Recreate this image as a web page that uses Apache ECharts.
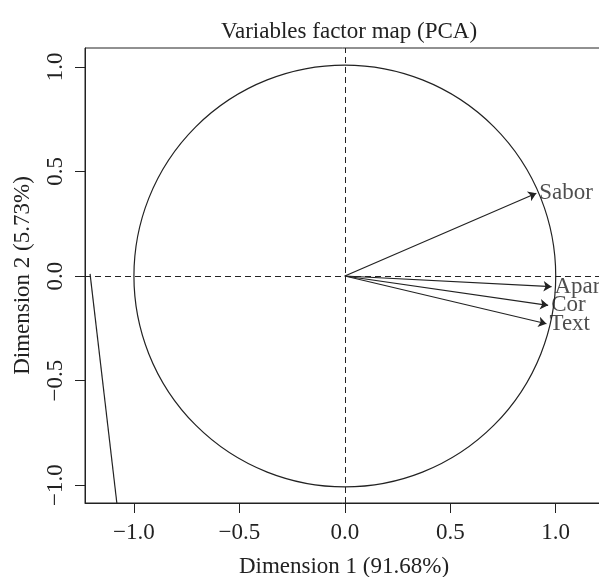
<!DOCTYPE html>
<html><head><meta charset="utf-8">
<script src="https://cdn.jsdelivr.net/npm/echarts@6/dist/echarts.min.js"></script>
<style>html,body{margin:0;padding:0;background:#fff}#c{width:599px;height:577px}</style>
</head><body><div id="c"></div>
<script>
const variables = ['Sabor', 'Apar', 'Cor', 'Text'];
const dim1 = [0.908, 0.980, 0.964, 0.956];
const dim2 = [0.396, -0.051, -0.140, -0.228];
const tickValues = [-1.0, -0.5, 0.0, 0.5, 1.0];
const strayLine = [[-1.208, 0.01], [-1.081, -1.085]];
const FONT = 'Liberation Serif';
const FS = 23;

const chart = echarts.init(document.getElementById('c'));
const fmt = v => (v < 0 ? '\u2212' : '') + Math.abs(v).toFixed(1);
const axisCommon = {
  type: 'value',
  splitLine: {show: false},
  axisLine: {show: true, onZero: false, lineStyle: {color: '#222', width: 1}},
  axisTick: {show: true, inside: false, length: 10, customValues: tickValues, lineStyle: {color: '#222'}},
  nameLocation: 'middle',
  nameTextStyle: {fontFamily: FONT, fontSize: FS, color: '#222'}
};
chart.setOption({
  animation: false,
  title: {text: 'Variables factor map (PCA)', left: 344, top: 15, textAlign: 'center',
    textStyle: {fontFamily: FONT, fontSize: FS, fontWeight: 'normal', color: '#222'}},
  grid: {left: 85, top: 48, width: 534, height: 455, show: true, borderColor: '#222', borderWidth: 1,
    containLabel: false, outerBoundsMode: 'none'},
  xAxis: Object.assign({}, axisCommon, {
    min: -1.232, max: 1.3, name: 'Dimension 1 (91.68%)', nameGap: 52,
    nameTextStyle: {fontFamily: FONT, fontSize: FS, color: '#222', padding: [0, 16, 0, 0]},
    axisLabel: {customValues: tickValues, formatter: fmt, fontFamily: FONT, fontSize: FS, color: '#222', margin: 18}
  }),
  yAxis: Object.assign({}, axisCommon, {
    min: -1.085, max: 1.09, name: 'Dimension 2 (5.73%)', nameGap: 51,
    axisLabel: {customValues: tickValues, formatter: fmt, rotate: 90, fontFamily: FONT, fontSize: FS, color: '#222', margin: 18}
  }),
  series: [
    {
      type: 'custom', coordinateSystem: 'cartesian2d', silent: true,
      data: [[0, 0, 1]],
      renderItem: function (params, api) {
        const c = api.coord([api.value(0), api.value(1)]);
        const r = api.size([api.value(2), 0])[0];
        return {type: 'circle', shape: {cx: c[0], cy: c[1], r: r},
          style: {fill: 'none', stroke: '#222', lineWidth: 1.2}};
      },
      markLine: {
        silent: true, symbol: 'none', label: {show: false},
        lineStyle: {color: '#222', type: [6, 4], width: 1},
        data: [{xAxis: 0}, {yAxis: 0}]
      }
    },
    {
      type: 'line', data: strayLine, symbol: 'none', silent: true,
      lineStyle: {color: '#222', width: 1.2}
    },
    {
      type: 'lines', coordinateSystem: 'cartesian2d', silent: true,
      symbol: ['none', 'arrow'], symbolSize: 8,
      lineStyle: {color: '#222', width: 1.2, opacity: 1},
      data: variables.map((v, i) => ({coords: [[0, 0], [dim1[i], dim2[i]]]}))
    },
    {
      type: 'scatter', silent: true, symbolSize: 0,
      data: variables.map((v, i) => ({value: [dim1[i], dim2[i]], name: v})),
      label: {show: true, position: 'right', distance: 3, formatter: p => p.name,
        fontFamily: FONT, fontSize: FS, color: '#222'}
    }
  ]
});
</script></body></html>
